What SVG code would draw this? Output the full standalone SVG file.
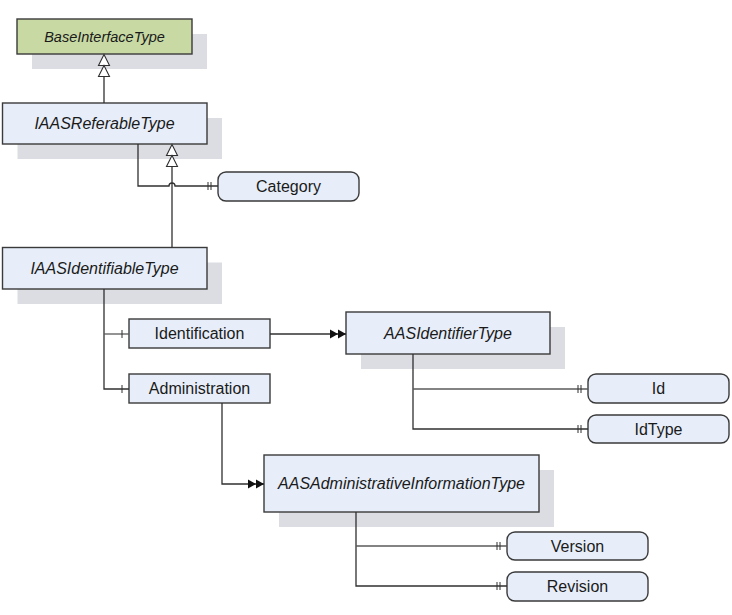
<svg xmlns="http://www.w3.org/2000/svg" width="732" height="615" viewBox="0 0 732 615">
<style>
.sh{fill:#dcdde2;stroke:none}
.box{fill:#e7eef9;stroke:#3a3a3a;stroke-width:1.4}
.base{fill:#c8d9a4;stroke:#3a3a3a;stroke-width:1.4}
.t{font-family:"Liberation Sans",Arial,sans-serif;font-size:16px;fill:#1a1a1a;text-anchor:middle;dominant-baseline:central}
.i{font-style:italic}
.c{fill:none;stroke:#303030;stroke-width:1.3}
.p{fill:none;stroke:#5a5a5a;stroke-width:1.3}
.hollow{fill:#fff;stroke:#303030;stroke-width:1.1}
</style>
<defs>
<marker id="dbl" markerUnits="userSpaceOnUse" viewBox="-18 -6 20 12" markerWidth="20" markerHeight="12" refX="0" refY="0" orient="auto" overflow="visible">
<polygon points="0,0 -8,-4.5 -8,4.5" fill="#111"/>
<polygon points="-8,0 -16,-4.5 -16,4.5" fill="#111"/>
</marker>
<marker id="two" markerUnits="userSpaceOnUse" viewBox="-14 -6 16 12" markerWidth="16" markerHeight="12" refX="0" refY="0" orient="auto" overflow="visible">
<line x1="-10" y1="-4" x2="-10" y2="4" stroke="#303030" stroke-width="1"/>
<line x1="-7" y1="-4" x2="-7" y2="4" stroke="#303030" stroke-width="1"/>
</marker>
<marker id="one" markerUnits="userSpaceOnUse" viewBox="-14 -6 16 12" markerWidth="16" markerHeight="12" refX="0" refY="0" orient="auto" overflow="visible">
<line x1="-7" y1="-4" x2="-7" y2="4" stroke="#303030" stroke-width="1"/>
</marker>
</defs>
<g id="BaseInterfaceType">
<rect class="sh" x="32" y="34" width="175" height="35"/>
<rect class="base" x="17" y="19" width="175" height="35"/>
<text class="t i" x="104.5" y="36.5" style="font-size:14.5px">BaseInterfaceType</text>
</g>
<g id="IAASReferableType">
<rect class="sh" x="17.5" y="118" width="204.5" height="41"/>
<rect class="box" x="2.5" y="103" width="204.5" height="41"/>
<text class="t i" x="104.5" y="123.5">IAASReferableType</text>
</g>
<g id="Category">
<rect class="box" x="218" y="172" width="141" height="29" rx="8"/>
<text class="t" x="288.5" y="186.5">Category</text>
</g>
<g id="IAASIdentifiableType">
<rect class="sh" x="17.5" y="262.5" width="204.5" height="41.5"/>
<rect class="box" x="2.5" y="247.5" width="204.5" height="41.5"/>
<text class="t i" x="104.5" y="268">IAASIdentifiableType</text>
</g>
<g id="Identification">
<rect class="box" x="129" y="319" width="141" height="29"/>
<text class="t" x="199.5" y="333.5">Identification</text>
</g>
<g id="Administration">
<rect class="box" x="129" y="374" width="141" height="29"/>
<text class="t" x="199.5" y="388.5">Administration</text>
</g>
<g id="AASIdentifierType">
<rect class="sh" x="361" y="327" width="204" height="42"/>
<rect class="box" x="346" y="312" width="204" height="42"/>
<text class="t i" x="448" y="333">AASIdentifierType</text>
</g>
<g id="Id">
<rect class="box" x="588" y="374" width="141" height="29" rx="8"/>
<text class="t" x="658.5" y="388.5">Id</text>
</g>
<g id="IdType">
<rect class="box" x="588" y="415" width="141" height="28" rx="8"/>
<text class="t" x="658.5" y="429">IdType</text>
</g>
<g id="AASAdministrativeInformationType">
<rect class="sh" x="279" y="470" width="275" height="57"/>
<rect class="box" x="264" y="455" width="275" height="57"/>
<text class="t i" x="401.5" y="483.5">AASAdministrativeInformationType</text>
</g>
<g id="Version">
<rect class="box" x="507" y="532" width="141" height="28" rx="8"/>
<text class="t" x="577.5" y="546">Version</text>
</g>
<g id="Revision">
<rect class="box" x="507" y="572" width="141" height="29" rx="8"/>
<text class="t" x="577.5" y="586.5">Revision</text>
</g>
<g id="connectors">
<path class="c" d="M104,103 V76"/>
<polygon class="hollow" points="104,54.5 98.5,65.5 109.5,65.5"/>
<polygon class="hollow" points="104,65.5 98.5,76.5 109.5,76.5"/>
<path class="c" d="M172,247.5 V166"/>
<polygon class="hollow" points="172,144.5 166.5,155.5 177.5,155.5"/>
<polygon class="hollow" points="172,155.5 166.5,166.5 177.5,166.5"/>
<path class="c" d="M138,144 V186 H169 A3,3 0 0 1 175,186 H218" marker-end="url(#two)"/>
<path class="c" d="M104,289 V389 H129" marker-end="url(#one)"/>
<path class="p" d="M104,334 H129" marker-end="url(#one)"/>
<path class="c" d="M270,334 H346" marker-end="url(#dbl)"/>
<path class="c" d="M413,354 V429 H588" marker-end="url(#two)"/>
<path class="p" d="M413,389 H588" marker-end="url(#two)"/>
<path class="c" d="M222,403 V484 H264" marker-end="url(#dbl)"/>
<path class="c" d="M356,512 V586 H507" marker-end="url(#two)"/>
<path class="p" d="M356,546 H507" marker-end="url(#two)"/>
</g>
</svg>
